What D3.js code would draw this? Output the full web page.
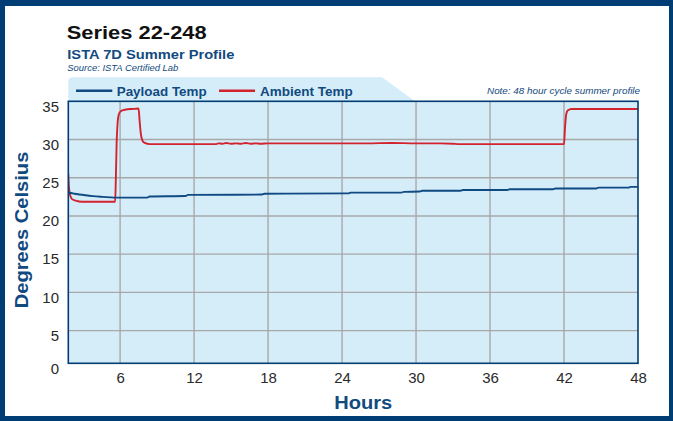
<!DOCTYPE html>
<html>
<head>
<meta charset="utf-8">
<script src="https://cdn.jsdelivr.net/npm/d3@7"></script>
<style>
  html, body { margin: 0; padding: 0; background: #ffffff; }
  svg { display: block; }
  text { font-family: "Liberation Sans", Arial, sans-serif; }
</style>
</head>
<body>
<svg id="chart" width="673" height="421"></svg>
<script>
// ---------- data ----------
const xTicks = [6, 12, 18, 24, 30, 36, 42, 48];
const yTicks = [0, 5, 10, 15, 20, 25, 30, 35];
const xStart = 1.8;   // first hour shown on the chart
const xEnd = 48;
const yFloor = 0.72;  // bottom of the plot area in °C
const yTop = 35;

const payloadHours = [1.8, 2.0, 2.3, 2.7, 3.2, 3.8, 4.6, 5.5, 8.2, 8.4, 11.3, 11.5, 17.5, 17.7, 24.5, 24.7, 28.8, 29.0, 30.3, 30.5, 33.6, 33.8, 37.4, 37.6, 41.1, 41.3, 44.6, 44.8, 47.2, 47.4, 48];
const payloadTemp  = [23.1, 23.0, 22.9, 22.8, 22.7, 22.6, 22.5, 22.4, 22.4, 22.55, 22.6, 22.75, 22.8, 22.9, 22.95, 23.05, 23.05, 23.15, 23.2, 23.3, 23.3, 23.4, 23.4, 23.5, 23.5, 23.6, 23.6, 23.7, 23.7, 23.8, 23.8];

const ambientHours = [1.8, 1.85, 1.95, 2.1, 2.4, 2.9, 5.6, 5.65, 5.72, 5.8, 5.9, 6.05, 6.4, 7.0, 7.5, 7.58, 7.68, 7.8, 8.0, 8.4, 13.8, 14.0, 14.3, 14.6, 15.0, 15.4, 15.8, 16.2, 16.6, 17.0, 17.4, 18.0, 19.0, 20.0, 22.0, 24.0, 26.0, 28.0, 30.0, 32.0, 33.0, 33.5, 34.0, 42.0, 42.08, 42.18, 42.3, 42.6, 48];
const ambientTemp  = [25.5, 23.8, 22.7, 22.2, 22.0, 21.85, 21.85, 24.5, 29.5, 32.2, 33.3, 33.7, 33.9, 34.0, 34.05, 32.5, 30.8, 29.9, 29.55, 29.4, 29.4, 29.5, 29.45, 29.55, 29.45, 29.5, 29.45, 29.55, 29.45, 29.5, 29.45, 29.5, 29.5, 29.5, 29.5, 29.5, 29.5, 29.55, 29.5, 29.5, 29.45, 29.4, 29.4, 29.4, 31.5, 33.3, 33.8, 34.0, 34.0];

const seriesNames = ["Payload Temp", "Ambient Temp"];
const seriesColors = ["#0f4a83", "#d2232f"];

// ---------- layout ----------
const svg = d3.select("#chart");
const darkBlue = "#003d74";
const textBlue = "#124a80";
const panelBlue = "#d4edf9";

const x = d3.scaleLinear().domain([xStart, xEnd]).range([68.3, 638]);
const y = d3.scaleLinear().domain([0, yTop]).range([368.8, 101.3]);

// outer frame
svg.append("rect").attr("x", 0).attr("y", 0).attr("width", 673).attr("height", 421).attr("fill", darkBlue);
svg.append("rect").attr("x", 5).attr("y", 6).attr("width", 664).attr("height", 410).attr("fill", "#ffffff");

// titles
svg.append("text").attr("x", 66.7).attr("y", 39.3)
  .attr("font-size", 18.5).attr("font-weight", "bold").attr("fill", "#111")
  .attr("textLength", 140).attr("lengthAdjust", "spacingAndGlyphs")
  .text("Series 22-248");
svg.append("text").attr("x", 67.3).attr("y", 58.7)
  .attr("font-size", 13.5).attr("font-weight", "bold").attr("fill", textBlue)
  .attr("textLength", 167).attr("lengthAdjust", "spacingAndGlyphs")
  .text("ISTA 7D Summer Profile");
svg.append("text").attr("x", 67.3).attr("y", 70.8)
  .attr("font-size", 8.3).attr("font-style", "italic").attr("fill", textBlue)
  .attr("textLength", 111).attr("lengthAdjust", "spacingAndGlyphs")
  .text("Source: ISTA Certified Lab");

// legend band with slanted right edge
const pL = x(xStart), pR = x(xEnd), pT = y(yTop), pB = y(yFloor);
const bandTop = 77.3;
svg.append("path")
  .attr("d", `M${pL},${pT} L${pL},${bandTop + 4} Q${pL},${bandTop} ${pL + 4},${bandTop} L382,${bandTop} L415,${pT} Z`)
  .attr("fill", panelBlue);

// legend entries
const legendX = [[76, 112.3, 116.7, 90], [219, 255, 260, 92.7]];
seriesNames.forEach((name, i) => {
  const [l0, l1, tx, tw] = legendX[i];
  svg.append("line").attr("x1", l0).attr("x2", l1).attr("y1", 90.7).attr("y2", 90.7)
    .attr("stroke", seriesColors[i]).attr("stroke-width", 2.6);
  svg.append("text").attr("x", tx).attr("y", 96)
    .attr("font-size", 13.5).attr("font-weight", "bold").attr("fill", textBlue)
    .attr("textLength", tw).attr("lengthAdjust", "spacingAndGlyphs")
    .text(name);
});
svg.append("text").attr("x", 640).attr("y", 93.5).attr("text-anchor", "end")
  .attr("font-size", 8.3).attr("font-style", "italic").attr("fill", textBlue)
  .attr("textLength", 153).attr("lengthAdjust", "spacingAndGlyphs")
  .text("Note: 48 hour cycle summer profile");

// plot background
svg.append("rect").attr("x", pL).attr("y", pT).attr("width", pR - pL).attr("height", pB - pT)
  .attr("fill", panelBlue);

// gridlines
const grid = svg.append("g").attr("stroke", "#a8a8a8").attr("stroke-width", 1.4);
xTicks.filter(t => t < xEnd).forEach(t => {
  grid.append("line").attr("x1", x(t)).attr("x2", x(t)).attr("y1", pT).attr("y2", pB);
});
yTicks.filter(t => t > yFloor && t < yTop).forEach(t => {
  grid.append("line").attr("x1", pL).attr("x2", pR).attr("y1", y(t)).attr("y2", y(t));
});

// series lines
const clip = svg.append("clipPath").attr("id", "plotclip");
clip.append("rect").attr("x", pL).attr("y", pT).attr("width", pR - pL).attr("height", pB - pT);

const line = d3.line().x(d => x(d[0])).y(d => y(d[1])).curveMonotoneX ? d3.line().x(d => x(d[0])).y(d => y(d[1])) : null;
const payload = payloadHours.map((h, i) => [h, payloadTemp[i]]);
const ambient = ambientHours.map((h, i) => [h, ambientTemp[i]]);

svg.append("path").datum(ambient).attr("clip-path", "url(#plotclip)")
  .attr("d", d3.line().x(d => x(d[0])).y(d => y(d[1])).curve(d3.curveMonotoneX))
  .attr("fill", "none").attr("stroke", seriesColors[1]).attr("stroke-width", 1.9);
svg.append("path").datum(payload).attr("clip-path", "url(#plotclip)")
  .attr("d", d3.line().x(d => x(d[0])).y(d => y(d[1])).curve(d3.curveMonotoneX))
  .attr("fill", "none").attr("stroke", seriesColors[0]).attr("stroke-width", 1.9);

// plot border
svg.append("rect").attr("x", pL).attr("y", pT).attr("width", pR - pL).attr("height", pB - pT)
  .attr("fill", "none").attr("stroke", darkBlue).attr("stroke-width", 1.6);

// axes labels via d3 axes
const xAxis = svg.append("g").attr("transform", `translate(0,${pB})`)
  .call(d3.axisBottom(x).tickValues(xTicks).tickSize(0).tickPadding(0));
xAxis.select(".domain").remove();
xAxis.selectAll("text").attr("y", 20).attr("dy", 0)
  .attr("font-size", 15).attr("fill", "#2a2a2a").attr("font-family", "'Liberation Sans', Arial, sans-serif");

const yAxis = svg.append("g").attr("transform", "translate(59,0)")
  .call(d3.axisLeft(y).tickValues(yTicks).tickSize(0).tickPadding(0));
yAxis.select(".domain").remove();
yAxis.selectAll(".tick").attr("transform", d => `translate(0,${y(Math.max(d, yFloor))})`);
yAxis.selectAll("text").attr("x", 0).attr("y", 10.3).attr("dy", 0)
  .attr("font-size", 15).attr("fill", "#2a2a2a").attr("font-family", "'Liberation Sans', Arial, sans-serif");

// axis titles
svg.append("text").attr("x", 363.3).attr("y", 409.3).attr("text-anchor", "middle")
  .attr("font-size", 18).attr("font-weight", "bold").attr("fill", textBlue)
  .attr("textLength", 58).attr("lengthAdjust", "spacingAndGlyphs")
  .text("Hours");
svg.append("text").attr("transform", "translate(27.5,230) rotate(-90)").attr("text-anchor", "middle")
  .attr("font-size", 17.5).attr("font-weight", "bold").attr("fill", textBlue)
  .attr("textLength", 156.7).attr("lengthAdjust", "spacingAndGlyphs")
  .text("Degrees Celsius");
</script>
</body>
</html>
